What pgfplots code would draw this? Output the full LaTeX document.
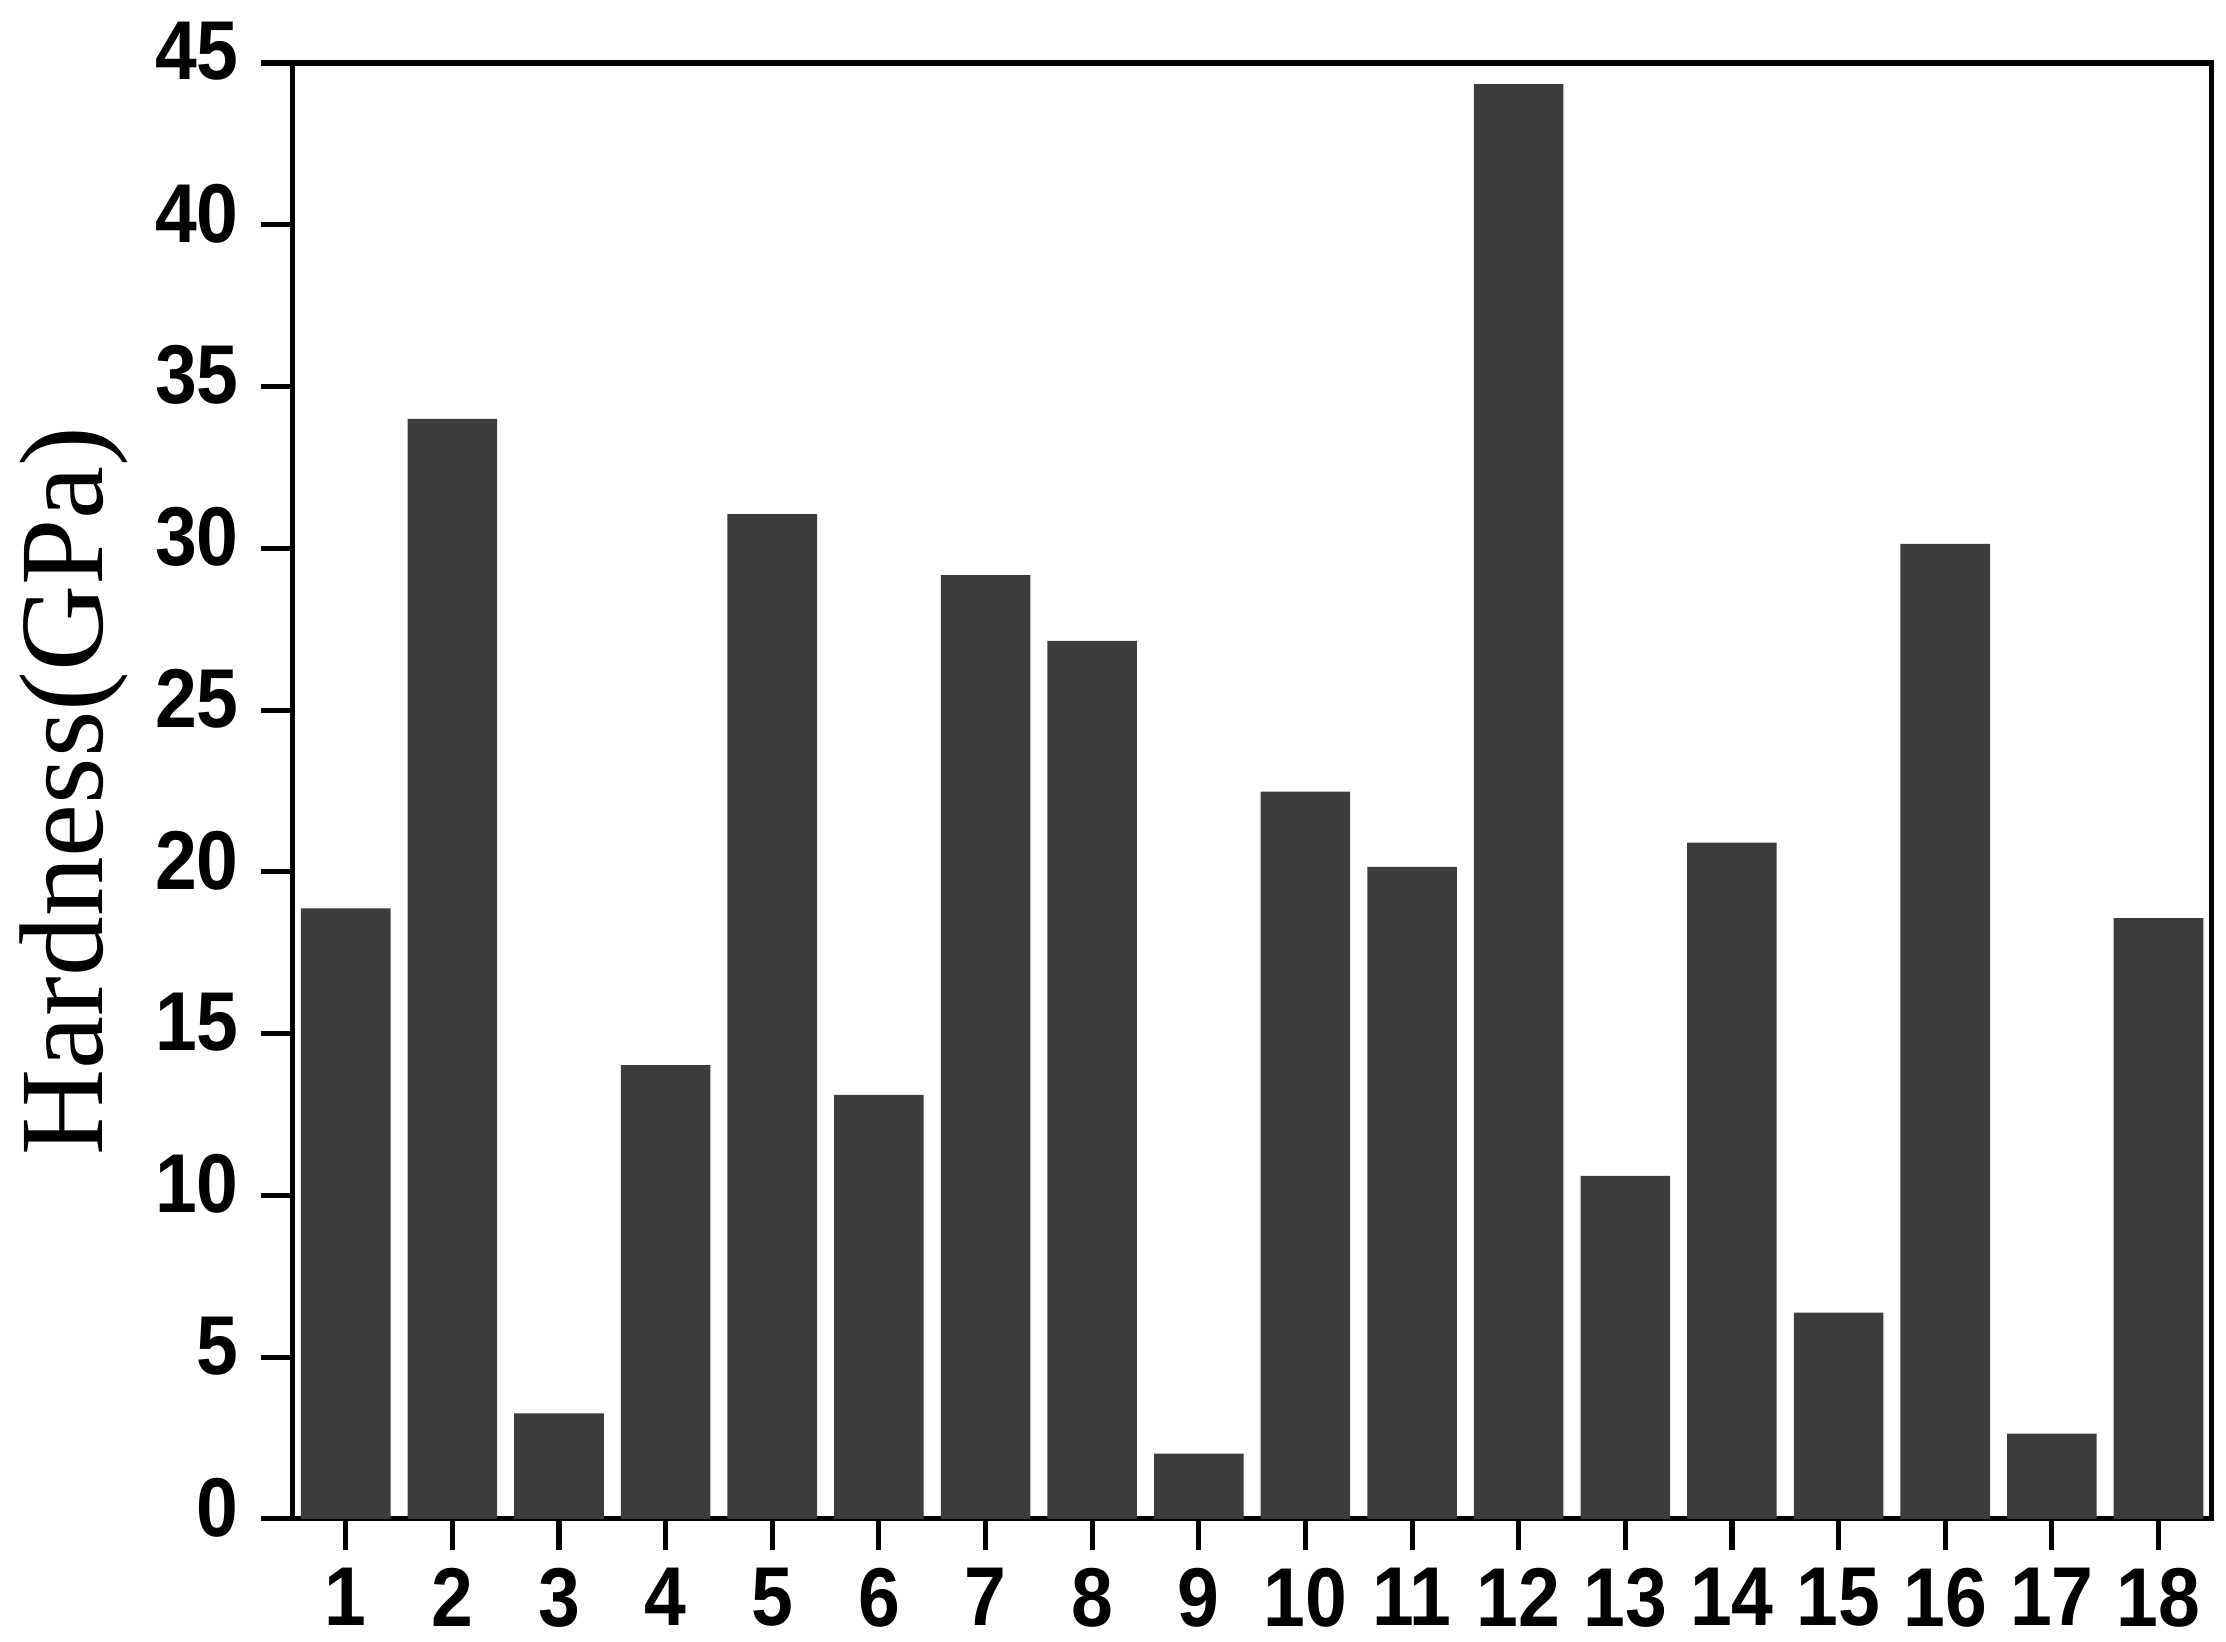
\documentclass[border=0pt]{standalone}
\usepackage{pgfplots}
\pgfplotsset{compat=1.18}
\usepackage{fontspec}
\setmainfont{Liberation Sans}
\newfontfamily\timesfont{Liberation Serif}
\definecolor{barfill}{HTML}{3C3C3C}

\begin{document}
\begin{tikzpicture}
\begin{axis}[
    name=ax,
    width=338pt, height=256.4pt,
    scale only axis,
    xmin=0.5, xmax=18.5,
    ymin=0, ymax=45,
    xtick={1,...,18},
    ytick={0,5,...,45},
    tick align=outside,
    major tick length=5.5pt,
    x tick style={line width=0.9pt, black},
    y tick style={line width=0.9pt, black},
    axis line style={line width=0.9pt},
    xtick pos=bottom, ytick pos=left,
    tick label style={font=\fontsize{14.7}{15}\selectfont\bfseries, inner sep=0pt},
    xticklabel style={yshift=-3pt},
    yticklabel style={xshift=-3.75pt, yshift=2pt},
    xticklabel={\scalebox{0.9}[1]{\pgfmathprintnumber{\tick}}},
    yticklabel={\scalebox{0.9}[1]{\pgfmathprintnumber{\tick}}},
    /pgf/number format/assume math mode=true,
    ylabel={\timesfont Hardness(GPa)},
    every axis y label/.style={at={(axis description cs:-0.114,0.5)}, rotate=90, anchor=center},
    ylabel style={font=\fontsize{21}{21}\selectfont},
    clip=false,
]
\addplot[ybar, bar width=0.84, fill=barfill, draw=none] coordinates {
  (1,18.87) (2,34.0) (3,3.26) (4,14.03) (5,31.06) (6,13.11)
  (7,29.17) (8,27.14) (9,2.02) (10,22.48) (11,20.15) (12,44.35)
  (13,10.6) (14,20.9) (15,6.38) (16,30.14) (17,2.64) (18,18.57)
};
\end{axis}
\pgfresetboundingbox
\path (ax.south west) ++(-51.5pt,-21.5pt) rectangle (ax.north east);
\path (ax.north east) ++(2.5pt,11.1pt) circle (0pt);
\end{tikzpicture}
\end{document}
